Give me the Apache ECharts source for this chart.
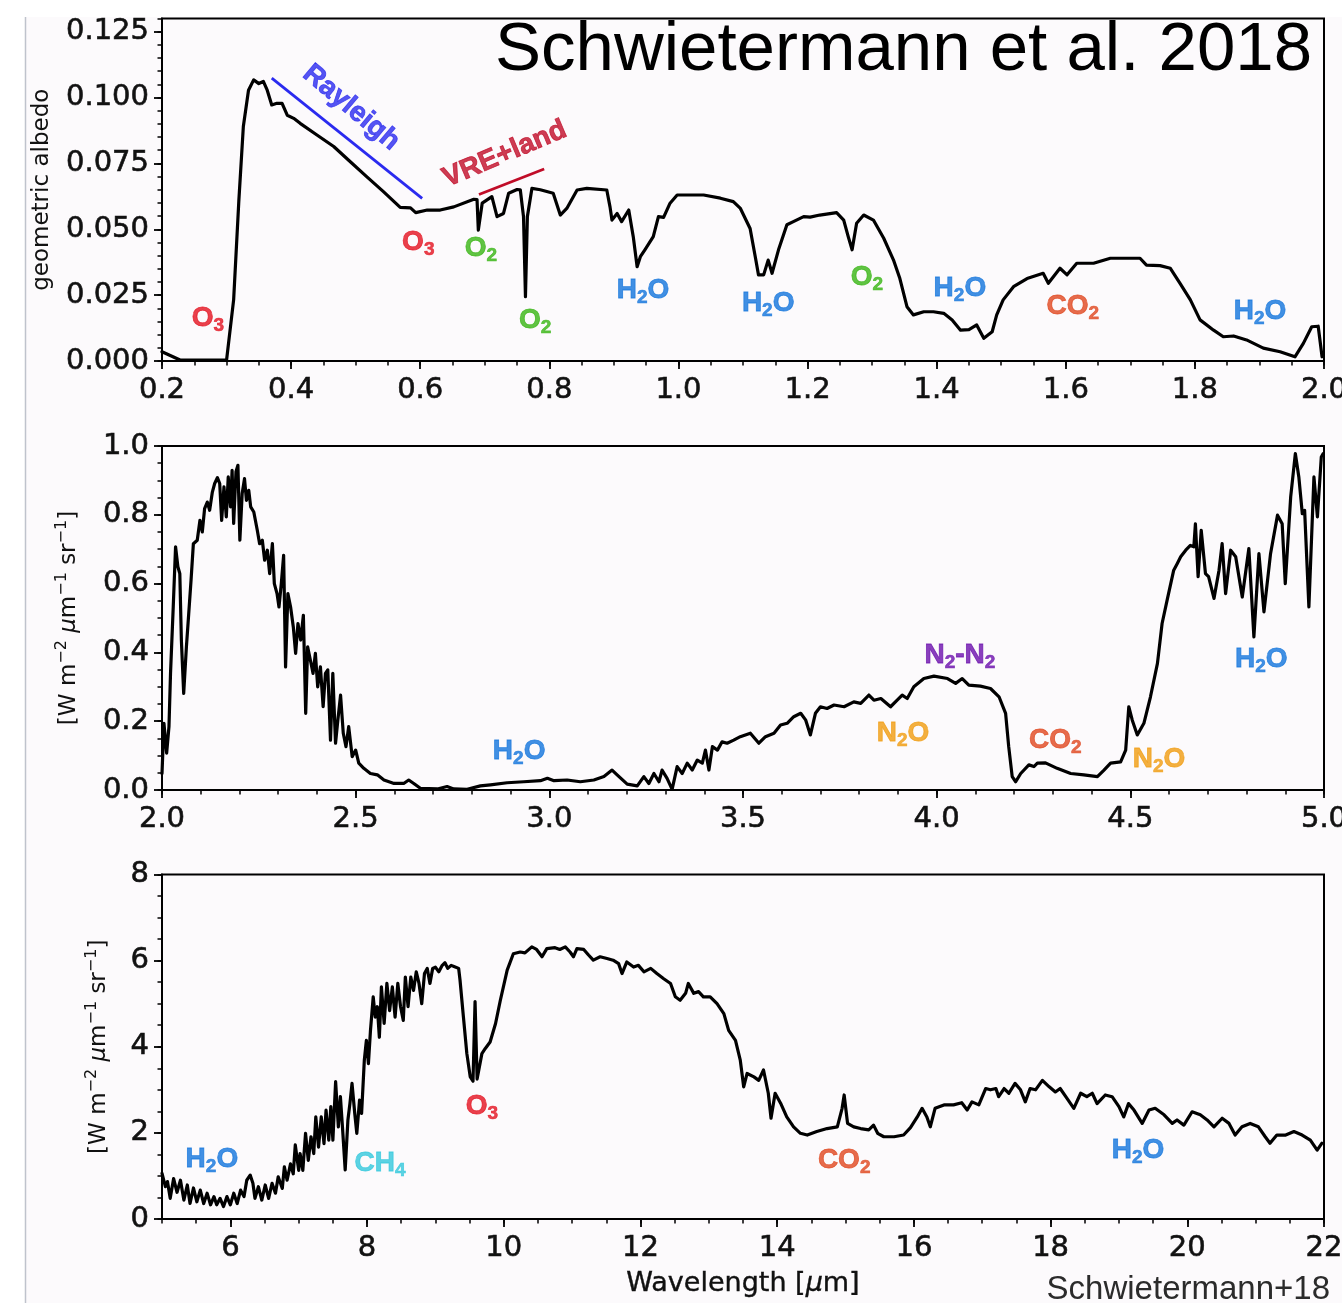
<!DOCTYPE html>
<html>
<head>
<meta charset="utf-8">
<script src="https://cdn.jsdelivr.net/npm/echarts@6/dist/echarts.min.js"></script>
<style>
  html, body { margin: 0; padding: 0; background: #fcfafc; }
  #c { width: 1342px; height: 1303px; }
</style>
</head>
<body>
<div id="c"></div>
<script>
// ---- Earth spectrum: reflected albedo (UV/VIS/NIR) ----
const albedoWl = [0.200,0.228,0.300,0.311,0.319,0.326,0.334,0.342,0.350,0.357,0.363,0.370,0.378,0.386,0.394,0.404,0.414,0.440,0.466,0.490,0.517,0.543,0.569,0.585,0.593,0.611,0.631,0.652,0.683,0.688,0.690,0.696,0.711,0.719,0.729,0.737,0.750,0.755,0.760,0.763,0.766,0.773,0.786,0.806,0.817,0.827,0.843,0.858,0.889,0.894,0.897,0.905,0.912,0.923,0.930,0.936,0.941,0.948,0.961,0.969,0.977,0.987,0.998,1.013,1.039,1.065,1.085,1.096,1.111,1.119,1.124,1.132,1.139,1.145,1.155,1.168,1.178,1.194,1.204,1.219,1.245,1.256,1.263,1.269,1.276,1.287,1.302,1.318,1.333,1.343,1.354,1.364,1.380,1.395,1.411,1.424,1.437,1.450,1.462,1.473,1.486,1.493,1.503,1.519,1.540,1.565,1.573,1.591,1.602,1.617,1.643,1.669,1.689,1.715,1.725,1.746,1.762,1.777,1.793,1.808,1.829,1.844,1.860,1.880,1.906,1.932,1.955,1.968,1.981,1.991,1.997];
const albedoVal = [0.0035,0.0004,0.0003,0.0233,0.0607,0.0890,0.1028,0.1067,0.1053,0.1061,0.1028,0.0972,0.0978,0.0978,0.0933,0.0921,0.0902,0.0858,0.0814,0.0760,0.0700,0.0643,0.0583,0.0581,0.0563,0.0573,0.0573,0.0585,0.0614,0.0613,0.0497,0.0599,0.0624,0.0548,0.0560,0.0637,0.0651,0.0650,0.0548,0.0244,0.0548,0.0655,0.0650,0.0637,0.0554,0.0579,0.0649,0.0655,0.0649,0.0585,0.0535,0.0560,0.0529,0.0573,0.0472,0.0358,0.0396,0.0422,0.0472,0.0548,0.0545,0.0599,0.0630,0.0630,0.0630,0.0618,0.0605,0.0579,0.0503,0.0396,0.0327,0.0327,0.0383,0.0333,0.0422,0.0517,0.0529,0.0548,0.0546,0.0554,0.0563,0.0535,0.0472,0.0422,0.0523,0.0554,0.0535,0.0466,0.0384,0.0313,0.0206,0.0175,0.0187,0.0187,0.0181,0.0156,0.0117,0.0119,0.0137,0.0086,0.0111,0.0175,0.0232,0.0282,0.0313,0.0333,0.0295,0.0352,0.0327,0.0371,0.0371,0.0390,0.0390,0.0390,0.0364,0.0362,0.0352,0.0295,0.0232,0.0156,0.0117,0.0092,0.0095,0.0080,0.0049,0.0035,0.0016,0.0067,0.0130,0.0132,0.0016];

// ---- Earth spectrum: radiance 2-5 um ----
const midWl = [2.000,2.005,2.012,2.018,2.022,2.029,2.035,2.041,2.046,2.050,2.056,2.063,2.069,2.075,2.081,2.091,2.098,2.104,2.110,2.117,2.123,2.130,2.136,2.143,2.149,2.154,2.160,2.166,2.171,2.177,2.181,2.185,2.191,2.196,2.201,2.207,2.213,2.218,2.224,2.229,2.237,2.246,2.252,2.259,2.265,2.272,2.278,2.285,2.290,2.297,2.302,2.308,2.314,2.319,2.325,2.332,2.339,2.345,2.351,2.358,2.365,2.371,2.376,2.383,2.390,2.396,2.402,2.409,2.416,2.422,2.428,2.435,2.441,2.448,2.454,2.461,2.468,2.475,2.482,2.491,2.500,2.508,2.521,2.538,2.556,2.573,2.599,2.624,2.637,2.650,2.667,2.711,2.736,2.753,2.788,2.822,2.848,2.891,2.934,2.977,2.995,3.012,3.046,3.080,3.115,3.141,3.162,3.175,3.201,3.227,3.244,3.257,3.270,3.283,3.291,3.304,3.317,3.330,3.343,3.356,3.369,3.382,3.395,3.403,3.412,3.421,3.434,3.446,3.459,3.476,3.493,3.519,3.541,3.558,3.580,3.597,3.614,3.631,3.649,3.662,3.674,3.687,3.700,3.717,3.735,3.761,3.786,3.804,3.825,3.838,3.856,3.881,3.898,3.911,3.924,3.941,3.967,3.993,4.028,4.049,4.066,4.083,4.113,4.139,4.161,4.178,4.186,4.195,4.204,4.217,4.238,4.251,4.260,4.281,4.311,4.346,4.380,4.415,4.432,4.449,4.475,4.488,4.496,4.505,4.518,4.535,4.552,4.570,4.582,4.595,4.612,4.621,4.630,4.643,4.655,4.664,4.668,4.675,4.683,4.694,4.702,4.716,4.729,4.737,4.746,4.759,4.772,4.789,4.806,4.819,4.832,4.845,4.862,4.880,4.892,4.900,4.914,4.926,4.935,4.944,4.950,4.961,4.974,4.983,4.993,4.998];
const midRad = [0.048,0.194,0.107,0.184,0.339,0.532,0.707,0.649,0.629,0.436,0.281,0.416,0.513,0.610,0.716,0.726,0.784,0.750,0.818,0.837,0.813,0.866,0.891,0.908,0.891,0.784,0.881,0.794,0.910,0.823,0.929,0.775,0.925,0.944,0.726,0.862,0.905,0.842,0.871,0.823,0.808,0.755,0.716,0.726,0.668,0.697,0.629,0.716,0.600,0.571,0.532,0.600,0.682,0.358,0.571,0.532,0.474,0.397,0.484,0.436,0.508,0.223,0.416,0.378,0.339,0.397,0.300,0.358,0.242,0.339,0.349,0.145,0.339,0.136,0.203,0.276,0.165,0.126,0.184,0.097,0.116,0.078,0.063,0.048,0.044,0.029,0.019,0.019,0.029,0.019,0.005,0.003,0.010,0.003,0.002,0.012,0.015,0.021,0.024,0.027,0.034,0.027,0.029,0.024,0.029,0.039,0.058,0.044,0.017,0.012,0.039,0.019,0.048,0.024,0.058,0.034,0.002,0.068,0.048,0.078,0.058,0.087,0.078,0.116,0.058,0.126,0.116,0.140,0.136,0.145,0.155,0.165,0.136,0.155,0.165,0.189,0.194,0.213,0.223,0.203,0.160,0.223,0.242,0.237,0.247,0.242,0.256,0.252,0.276,0.261,0.266,0.242,0.261,0.276,0.266,0.300,0.324,0.331,0.324,0.310,0.324,0.305,0.302,0.295,0.271,0.223,0.126,0.039,0.024,0.048,0.073,0.068,0.078,0.079,0.063,0.048,0.044,0.039,0.058,0.078,0.082,0.116,0.242,0.203,0.160,0.194,0.271,0.368,0.484,0.552,0.639,0.658,0.678,0.697,0.711,0.707,0.774,0.620,0.755,0.629,0.620,0.557,0.639,0.716,0.571,0.697,0.678,0.561,0.702,0.445,0.687,0.518,0.687,0.799,0.774,0.600,0.852,0.978,0.910,0.803,0.813,0.532,0.910,0.794,0.968,0.978];

// ---- Earth spectrum: thermal emission 5-22 um ----
const farWl = [5.00,5.05,5.08,5.12,5.17,5.22,5.27,5.32,5.37,5.41,5.46,5.51,5.56,5.61,5.66,5.71,5.76,5.80,5.85,5.90,5.95,6.00,6.05,6.10,6.15,6.20,6.24,6.29,6.33,6.36,6.41,6.46,6.51,6.56,6.61,6.66,6.70,6.76,6.79,6.83,6.88,6.92,6.95,7.00,7.02,7.06,7.10,7.14,7.18,7.22,7.25,7.29,7.33,7.37,7.40,7.44,7.47,7.50,7.54,7.58,7.61,7.64,7.68,7.72,7.75,7.78,7.82,7.85,7.89,7.92,7.96,7.99,8.02,8.05,8.09,8.12,8.15,8.18,8.21,8.25,8.29,8.33,8.37,8.41,8.45,8.49,8.53,8.56,8.60,8.64,8.68,8.72,8.76,8.80,8.84,8.88,8.92,8.96,9.00,9.05,9.10,9.14,9.18,9.23,9.29,9.34,9.36,9.41,9.46,9.51,9.55,9.58,9.61,9.68,9.73,9.80,9.88,9.95,10.05,10.14,10.24,10.31,10.41,10.48,10.56,10.63,10.75,10.82,10.90,10.97,11.02,11.07,11.17,11.24,11.31,11.41,11.51,11.60,11.68,11.73,11.80,11.90,11.97,12.05,12.15,12.24,12.34,12.44,12.51,12.58,12.66,12.70,12.78,12.85,12.92,13.02,13.12,13.22,13.29,13.39,13.46,13.51,13.56,13.66,13.73,13.80,13.87,13.91,13.97,14.05,14.14,14.24,14.34,14.44,14.58,14.73,14.88,14.95,14.98,15.03,15.12,15.22,15.34,15.41,15.47,15.56,15.71,15.85,15.95,16.05,16.12,16.19,16.24,16.31,16.44,16.58,16.70,16.78,16.85,16.95,17.05,17.12,17.20,17.24,17.32,17.39,17.48,17.56,17.63,17.70,17.78,17.88,17.98,18.07,18.14,18.24,18.34,18.44,18.53,18.61,18.68,18.80,18.90,19.00,19.07,19.14,19.22,19.34,19.44,19.53,19.66,19.78,19.85,19.95,20.07,20.19,20.29,20.39,20.51,20.61,20.70,20.80,20.92,21.04,21.14,21.21,21.31,21.44,21.56,21.68,21.80,21.90,21.97];
const farRad = [1.06,0.75,0.87,0.48,0.94,0.62,0.90,0.44,0.79,0.36,0.72,0.40,0.67,0.36,0.60,0.33,0.52,0.33,0.48,0.29,0.52,0.33,0.60,0.36,0.67,0.52,0.90,1.02,0.83,0.48,0.75,0.44,0.79,0.48,0.83,0.60,0.98,0.71,1.21,0.90,1.28,1.05,1.72,1.13,1.52,1.13,1.99,1.36,1.91,1.52,2.37,1.67,2.37,1.75,2.53,1.83,2.61,1.83,3.19,2.14,2.84,2.14,1.14,2.30,2.69,3.15,2.45,1.99,2.76,2.45,3.69,4.15,3.61,4.38,5.16,4.69,4.93,4.22,5.39,4.54,5.47,4.84,5.39,4.69,5.47,4.93,4.61,5.62,4.93,5.62,5.31,5.74,5.47,5.00,5.70,5.82,5.47,5.82,5.85,5.74,5.89,5.95,5.82,5.89,5.85,5.82,5.55,4.69,3.84,3.30,3.20,5.05,3.25,3.84,3.96,4.11,4.54,5.08,5.78,6.16,6.20,6.18,6.32,6.26,6.09,6.28,6.30,6.26,6.32,6.20,6.09,6.28,6.26,6.13,6.01,6.09,6.05,6.01,5.93,5.70,5.97,5.85,5.89,5.74,5.82,5.70,5.58,5.47,5.16,5.08,5.24,5.47,5.24,5.28,5.16,5.16,5.00,4.77,4.38,4.15,3.69,3.07,3.38,3.30,3.22,3.46,2.92,2.34,2.92,2.69,2.37,2.14,1.99,1.95,2.03,2.10,2.14,2.57,2.88,2.22,2.14,2.10,2.07,2.18,1.99,1.91,1.91,1.95,2.12,2.37,2.57,2.37,2.14,2.57,2.65,2.65,2.70,2.53,2.72,2.65,3.03,3.00,3.03,2.84,3.03,2.92,3.15,3.00,2.72,3.03,3.00,3.22,3.07,2.95,3.03,2.80,2.57,2.92,2.84,2.92,2.68,2.88,2.84,2.61,2.37,2.68,2.53,2.22,2.53,2.57,2.42,2.22,2.30,2.18,2.49,2.42,2.30,2.14,2.34,2.22,1.95,2.14,2.22,2.14,1.91,1.76,1.95,1.95,2.03,1.95,1.83,1.60,1.76];

// ---- axis tick values ----
const albedoXTicks = [0.2, 0.4, 0.6, 0.8, 1.0, 1.2, 1.4, 1.6, 1.8, 2.0];
const albedoYTicks = [0, 0.025, 0.05, 0.075, 0.1, 0.125];
const midXTicks = [2.0, 2.5, 3.0, 3.5, 4.0, 4.5, 5.0];
const midYTicks = [0, 0.2, 0.4, 0.6, 0.8, 1.0];
const farXTicks = [6, 8, 10, 12, 14, 16, 18, 20, 22];
const farYTicks = [0, 2, 4, 6, 8];

// ---- absorber annotations: [species, wavelength, value] ----
const albedoBands = [
  ['O3', 0.271, 0.0163], ['O3', 0.597, 0.0452], ['O2', 0.694, 0.0429], ['O2', 0.778, 0.0156],
  ['H2O', 0.945, 0.0270], ['H2O', 1.139, 0.0220], ['O2', 1.292, 0.0319], ['H2O', 1.436, 0.0277],
  ['CO2', 1.611, 0.0209], ['H2O', 1.901, 0.0190]
];
const midBands = [
  ['H2O', 2.922, 0.113], ['N2O', 3.913, 0.166], ['N2-N2', 4.060, 0.392],
  ['CO2', 4.306, 0.145], ['N2O', 4.574, 0.090], ['H2O', 4.838, 0.381]
];
const farBands = [
  ['H2O', 5.73, 1.39], ['CH4', 8.19, 1.30], ['O3', 9.68, 2.62], ['CO2', 14.98, 1.37], ['H2O', 19.28, 1.60]
];
// slope markers in the albedo panel
const rayleighSeg = [[0.370, 0.1074], [0.603, 0.0617]];
const vreSeg = [[0.691, 0.0632], [0.792, 0.0729]];
const rayleighTag = [0.493, 0.0962];
const vreTag = [0.731, 0.0785];

const speciesColor = {
  'O3': '#e3111f', 'O2': '#38b514', 'H2O': '#1274dc', 'CO2': '#e0471f',
  'N2O': '#f09c10', 'N2-N2': '#6c10ac', 'CH4': '#33c8dc'
};

const INK = '#000';
const TICK_FONT = 'DejaVu Sans';
const TAG_FONT = 'Liberation Sans';
const TICK_SIZE = 29;

function zip(a, b) { return a.map((v, i) => [v, b[i]]); }

function axisPair(dim, grid, min, max, step, majors, digits, extra) {
  const fmt = v => Number(v).toFixed(digits);
  const major = Object.assign({
    type: 'value', gridIndex: grid, min: min, max: max, interval: step,
    position: dim === 'x' ? 'bottom' : 'left',
    axisLine: { show: true, onZero: false, lineStyle: { color: INK, width: 2 } },
    axisTick: { show: true, customValues: majors, length: 8, lineStyle: { color: INK, width: 1.8 } },
    axisLabel: { show: true, customValues: majors, formatter: fmt, margin: dim === 'x' ? 15 : 13,
      fontSize: TICK_SIZE, fontFamily: TICK_FONT, color: '#111',
      textBorderColor: '#111', textBorderWidth: 0.6 },
    splitLine: { show: false }, minorTick: { show: false }
  }, extra || {});
  const minor = {
    type: 'value', gridIndex: grid, min: min, max: max, interval: step,
    position: dim === 'x' ? 'bottom' : 'left',
    axisLine: { show: false, onZero: false },
    axisTick: { show: true, length: 4.5, lineStyle: { color: INK, width: 1.5 } },
    axisLabel: { show: false }, splitLine: { show: false }
  };
  return [major, minor];
}

// species label -> rich text with subscript digits
function chemText(t) {
  let out = '', buf = '', mode = null;
  for (const ch of t) {
    const m = /\d/.test(ch) ? 's' : 'm';
    if (m !== mode && buf) { out += '{' + mode + '|' + buf + '}'; buf = ''; }
    mode = m; buf += ch;
  }
  if (buf) out += '{' + mode + '|' + buf + '}';
  return out;
}
function chemRich(color) {
  return {
    m: { fontSize: 28, fontWeight: 'bold', fontFamily: TAG_FONT, color: color, lineHeight: 30,
      textBorderColor: color, textBorderWidth: 0.8 },
    s: { fontSize: 19, fontWeight: 'bold', fontFamily: TAG_FONT, color: color, lineHeight: 20,
      padding: [15, 0, 0, 0], textBorderColor: color, textBorderWidth: 0.6 }
  };
}
function bandSeries(xi, yi, bands) {
  return {
    type: 'scatter', xAxisIndex: xi, yAxisIndex: yi, symbolSize: 1, silent: true, z: 6,
    itemStyle: { color: 'rgba(0,0,0,0)' },
    data: bands.map(b => ({
      value: [b[1], b[2]],
      label: { show: true, position: 'inside', formatter: chemText(b[0]), rich: chemRich(speciesColor[b[0]]) }
    }))
  };
}
function spectrum(xi, yi, xs, ys) {
  return {
    type: 'line', xAxisIndex: xi, yAxisIndex: yi, data: zip(xs, ys), showSymbol: false,
    symbol: 'none', lineStyle: { color: '#000', width: 3.2, join: 'round', cap: 'round' }, z: 3, silent: true
  };
}

const unitName = '{n|[W m}{p|−2}{n| }{i|μ}{n|m}{p|−1}{n| sr}{p|−1}{n|]}';
const unitRich = {
  n: { fontSize: 23, fontFamily: TICK_FONT, color: '#111' },
  i: { fontSize: 23, fontFamily: TICK_FONT, fontStyle: 'italic', color: '#111' },
  p: { fontSize: 16, fontFamily: TICK_FONT, color: '#111', padding: [0, 0, 14, 0] }
};

const xA = [].concat(
  axisPair('x', 0, 0.2, 2.0, 0.05, albedoXTicks, 1),
  axisPair('x', 1, 2.0, 5.0, 0.1, midXTicks, 1),
  axisPair('x', 2, 5, 22, 0.5, farXTicks, 0, {
    name: '{n|Wavelength [}{i|μ}{n|m]}', nameLocation: 'middle', nameGap: 51,
    nameTextStyle: { rich: {
      n: { fontSize: 27, fontFamily: TICK_FONT, color: '#111', textBorderColor: '#111', textBorderWidth: 0.4 },
      i: { fontSize: 27, fontFamily: TICK_FONT, fontStyle: 'italic', color: '#111', textBorderColor: '#111', textBorderWidth: 0.4 } } }
  })
);
const yA = [].concat(
  axisPair('y', 0, 0, 0.13, 0.005, albedoYTicks, 3, {
    name: 'geometric albedo', nameLocation: 'middle', nameGap: 108,
    nameTextStyle: { fontSize: 23, fontFamily: TICK_FONT, color: '#111' }
  }),
  axisPair('y', 1, 0, 1.0, 0.05, midYTicks, 1, {
    name: unitName, nameLocation: 'middle', nameGap: 78, nameTextStyle: { rich: unitRich }
  }),
  axisPair('y', 2, 0, 8, 0.5, farYTicks, 0, {
    name: unitName, nameLocation: 'middle', nameGap: 48, nameTextStyle: { rich: unitRich }
  })
);

const gridBase = { left: 162, width: 1162, show: true, borderColor: INK, borderWidth: 2,
  backgroundColor: 'transparent', containLabel: false, outerBoundsMode: 'none' };

const option = {
  animation: false,
  backgroundColor: '#fcfafc',
  grid: [
    Object.assign({ top: 18.5, height: 342.5 }, gridBase),
    Object.assign({ top: 446, height: 344 }, gridBase),
    Object.assign({ top: 874.5, height: 344.5 }, gridBase)
  ],
  xAxis: xA,
  yAxis: yA,
  series: [
    spectrum(0, 0, albedoWl, albedoVal),
    spectrum(2, 2, midWl, midRad),
    spectrum(4, 4, farWl, farRad),
    { type: 'line', xAxisIndex: 0, yAxisIndex: 0, data: rayleighSeg, showSymbol: false, symbol: 'none',
      lineStyle: { color: '#2a2aef', width: 2.8 }, z: 4, silent: true },
    { type: 'line', xAxisIndex: 0, yAxisIndex: 0, data: vreSeg, showSymbol: false, symbol: 'none',
      lineStyle: { color: '#c00c28', width: 2.8 }, z: 4, silent: true },
    { type: 'scatter', xAxisIndex: 0, yAxisIndex: 0, symbolSize: 1, silent: true, z: 6,
      itemStyle: { color: 'rgba(0,0,0,0)' },
      data: [
        { value: rayleighTag, label: { show: true, position: 'inside', formatter: 'Rayleigh', rotate: -40,
          fontSize: 28, fontWeight: 'bold', fontFamily: TAG_FONT, color: '#2a2aef',
          textBorderColor: '#2a2aef', textBorderWidth: 0.8 } },
        { value: vreTag, label: { show: true, position: 'inside', formatter: 'VRE+land', rotate: 23,
          fontSize: 28, fontWeight: 'bold', fontFamily: TAG_FONT, color: '#c00c28',
          textBorderColor: '#c00c28', textBorderWidth: 0.8 } }
      ] },
    bandSeries(0, 0, albedoBands),
    bandSeries(2, 2, midBands),
    bandSeries(4, 4, farBands)
  ],
  graphic: [
    { type: 'rect', silent: true, z: -10, shape: { x: 0, y: 0, width: 1342, height: 17 }, style: { fill: '#ffffff' } },
    { type: 'rect', silent: true, z: -10, shape: { x: 0, y: 0, width: 25, height: 1303 }, style: { fill: '#ffffff' } },
    { type: 'line', silent: true, z: -9, shape: { x1: 25.5, y1: 17, x2: 25.5, y2: 1303 },
      style: { stroke: '#bfc3cc', lineWidth: 1.5 } },
    { type: 'text', silent: true, z: 10, style: { text: 'Schwietermann et al. 2018', x: 1312, y: 51,
      textAlign: 'right', textVerticalAlign: 'middle', font: '69px "Liberation Sans", Arial, sans-serif', fill: '#000' } },
    { type: 'text', silent: true, z: 10, style: { text: 'Schwietermann+18', x: 1330, y: 1290,
      textAlign: 'right', textVerticalAlign: 'middle', font: '33px "Liberation Sans", Arial, sans-serif', fill: '#2b2b2b' } }
  ]
};

const chart = echarts.init(document.getElementById('c'), null, { renderer: 'canvas' });
chart.setOption(option);
</script>
</body>
</html>
